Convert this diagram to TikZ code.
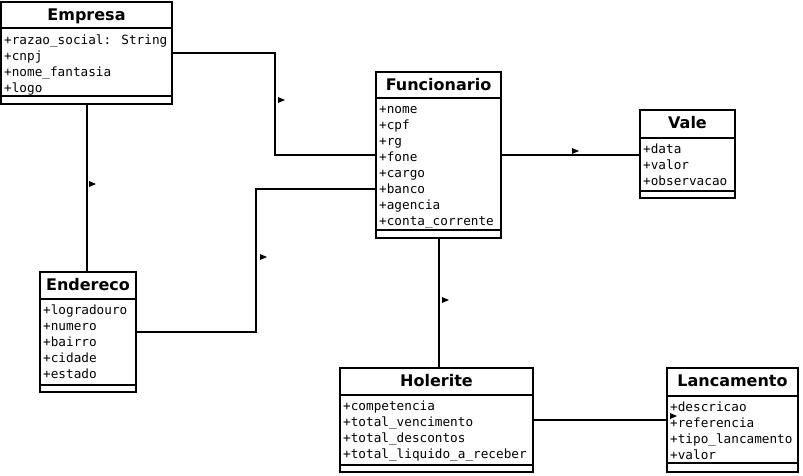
\documentclass[tikz,border=0pt]{standalone}
\usepackage{fontspec}
\setmainfont{DejaVu Sans}
\newfontfamily\monof{DejaVu Sans Mono}
\tikzset{
  classbox/.style={draw, line width=2pt, anchor=north west, inner sep=0pt, outer sep=0pt, fill=white},
  sepline/.style={line width=2pt},
  classtitle/.style={anchor=base, inner sep=0pt, font=\bfseries\fontsize{16}{19}\selectfont},
  attr/.style={anchor=base west, inner sep=0pt, font=\monof\fontsize{12.7}{16}\selectfont},
  conn/.style={line width=2pt},
}
\newcommand\umlclass[8]{%
  \node[classbox, minimum width={#5pt-#3pt}, minimum height={#8pt-#4pt}] (#1) at (#3,#4) {};
  \draw[sepline] (#3,#6) -- (#5,#6);
  \draw[sepline] (#3,#7) -- (#5,#7);
  \node[classtitle] (#1-t) at ({(#3+#5)/2},{#4+18}) {#2};
}
\newcommand\umlattrs[4]{%
  \foreach \a [count=\i] in {#4} {\node[attr] (#1-a\i) at (#2,{#3+16*(\i-1)}) {\a};}
}
\newcommand\mk[2]{\fill (#1-3,#2-3) -- (#1+4,#2) -- (#1-3,#2+3) -- cycle;}
\begin{document}
\begin{tikzpicture}[x=1pt,y=-1pt]
\useasboundingbox (0,0) rectangle (803,475);
\fill[white] (0,0) rectangle (803,475);
% classes
\umlclass{emp}{Empresa}{1}{2}{172}{28}{96}{104}
\umlattrs{emp}{4}{44}{+razao\_social: String,+cnpj,+nome\_fantasia,+logo}
\umlclass{fun}{Funcionario}{376}{72}{501}{98}{230}{238}
\umlattrs{fun}{379}{113}{+nome,+cpf,+rg,+fone,+cargo,+banco,+agencia,+conta\_corrente}
\umlclass{vale}{Vale}{640}{110}{735}{138}{191}{198}
\umlattrs{vale}{643}{153}{+data,+valor,+observacao}
\umlclass{end}{Endereco}{40}{272}{136}{299}{385}{392}
\umlattrs{end}{43}{314}{+logradouro,+numero,+bairro,+cidade,+estado}
\umlclass{hol}{Holerite}{340}{368}{533}{395}{465}{472}
\umlattrs{hol}{343}{410}{+competencia,+total\_vencimento,+total\_descontos,+total\_liquido\_a\_receber}
\umlclass{lanc}{Lancamento}{667}{368}{798}{396}{463}{472}
\umlattrs{lanc}{670}{411}{+descricao,+referencia,+tipo\_lancamento,+valor}
% connectors
\draw[conn] ([yshift=-51pt]emp.north east) -- ++(103,0) |- ([yshift=-83pt]fun.north west);
\draw[conn] (emp.south) -- (emp.south |- end.north);
\draw[conn] ([yshift=-60pt]end.north east) -- ++(120,0) |- ([yshift=-117pt]fun.north west);
\draw[conn] ([yshift=-83pt]fun.north east) -- ([yshift=-45pt]vale.north west);
\draw[conn] (fun.south) -- (fun.south |- hol.north);
\draw[conn] ([yshift=-52pt]hol.north east) -- ([yshift=-52pt]lanc.north west);
% direction markers
\mk{281}{100}
\mk{92}{184}
\mk{263}{257}
\mk{575}{151}
\mk{445}{300}
\mk{673}{416}
\end{tikzpicture}
\end{document}
